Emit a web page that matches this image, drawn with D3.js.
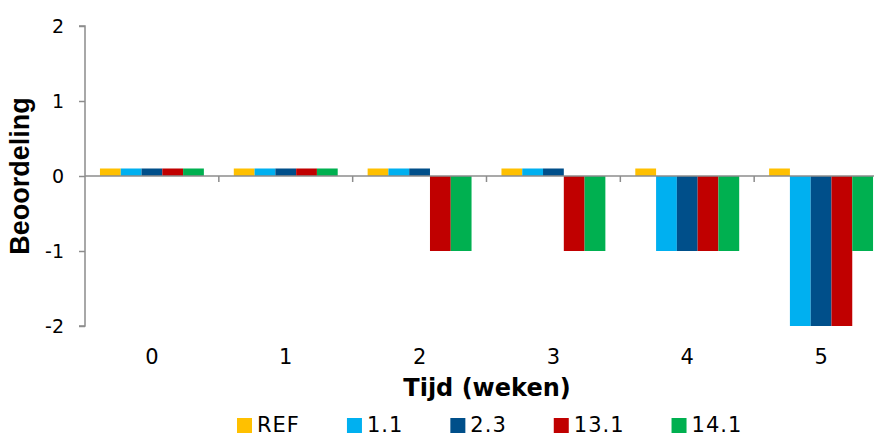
<!DOCTYPE html>
<html>
<head>
<meta charset="utf-8">
<script src="https://cdn.jsdelivr.net/npm/d3@7"></script>
<style>
  html, body { margin: 0; padding: 0; background: #fff; }
  svg { display: block; }
</style>
</head>
<body>
<svg id="chart" width="874" height="436"></svg>
<script>
// Weeks on the x axis
const weeks = ["0", "1", "2", "3", "4", "5"];
// Series names and their scores per week (0.1 marks a score of zero so it stays visible)
const seriesNames = ["REF", "1.1", "2.3", "13.1", "14.1"];
const seriesREF  = [0.1, 0.1, 0.1, 0.1, 0.1, 0.1];
const series11   = [0.1, 0.1, 0.1, 0.1, -1, -2];
const series23   = [0.1, 0.1, 0.1, 0.1, -1, -2];
const series131  = [0.1, 0.1, -1, -1, -1, -2];
const series141  = [0.1, 0.1, -1, -1, -1, -1];
const yTicks = [-2, -1, 0, 1, 2];
const colors = ["#FFC000", "#00B0F0", "#004F8A", "#C00000", "#00B050"];

const allSeries = [seriesREF, series11, series23, series131, series141];

const svg = d3.select("#chart");
const margin = { left: 85, top: 26, right: 888, bottom: 326 };
const axisColor = "#8C8C8C";

const x = d3.scaleBand().domain(weeks).range([margin.left, margin.right]).paddingInner(0).paddingOuter(0);
const inner = d3.scaleBand().domain(seriesNames)
  .range([0, x.bandwidth()]).paddingOuter(0.72).paddingInner(0);
const y = d3.scaleLinear().domain([-2, 2]).range([margin.bottom, margin.top]);

// Bars
const groups = svg.append("g").selectAll("g")
  .data(weeks)
  .join("g")
  .attr("transform", d => `translate(${x(d)},0)`);

groups.selectAll("rect")
  .data((w, i) => seriesNames.map((s, k) => ({ s, k, v: allSeries[k][i] })))
  .join("rect")
  .attr("x", d => inner(d.s))
  .attr("width", inner.bandwidth())
  .attr("y", d => y(Math.max(0, d.v)))
  .attr("height", d => Math.abs(y(d.v) - y(0)))
  .attr("fill", d => colors[d.k]);

// Y axis
const yAxis = d3.axisLeft(y).tickValues(yTicks).tickSize(6).tickPadding(15).tickFormat(d => String(d));
const gy = svg.append("g").attr("transform", `translate(${margin.left},0)`).call(yAxis);
gy.select(".domain").attr("stroke", axisColor).attr("stroke-width", 1.5).attr("d", `M-6,${y(2)}H0V${y(-2)}H-6`);
gy.selectAll(".tick line").attr("stroke", axisColor).attr("stroke-width", 1.5);
gy.selectAll(".tick text")
  .attr("font-family", "DejaVu Sans, Verdana, sans-serif")
  .attr("font-size", 19).attr("fill", "#000");

// X axis along zero, with boundary ticks between weeks
const gx = svg.append("g");
gx.append("line")
  .attr("x1", margin.left).attr("x2", margin.right)
  .attr("y1", y(0)).attr("y2", y(0))
  .attr("stroke", axisColor).attr("stroke-width", 1.5);
gx.selectAll("line.b")
  .data(weeks)
  .join("line")
  .attr("class", "b")
  .attr("x1", d => x(d) + x.bandwidth())
  .attr("x2", d => x(d) + x.bandwidth())
  .attr("y1", y(0)).attr("y2", y(0) + 6)
  .attr("stroke", axisColor).attr("stroke-width", 1.5);

// Week labels
svg.append("g").selectAll("text")
  .data(weeks)
  .join("text")
  .attr("x", d => x(d) + x.bandwidth() / 2)
  .attr("y", 364)
  .attr("text-anchor", "middle")
  .attr("font-family", "DejaVu Sans, Verdana, sans-serif")
  .attr("font-size", 21)
  .text(d => d);

// Axis titles
svg.append("text")
  .attr("x", 487).attr("y", 396)
  .attr("text-anchor", "middle")
  .attr("font-family", "DejaVu Sans, Verdana, sans-serif")
  .attr("font-weight", "bold").attr("font-size", 24)
  .text("Tijd (weken)");

svg.append("text")
  .attr("transform", `translate(29,${y(0)}) rotate(-90)`)
  .attr("text-anchor", "middle")
  .attr("font-family", "Liberation Sans, Arial, sans-serif")
  .attr("font-weight", "bold").attr("font-size", 27)
  .text("Beoordeling");

// Legend
const legend = svg.append("g");
let lx = 237;
seriesNames.forEach((name, k) => {
  legend.append("rect")
    .attr("x", lx).attr("y", 418).attr("width", 15).attr("height", 15)
    .attr("fill", colors[k]);
  const t = legend.append("text")
    .attr("x", lx + 20).attr("y", 432)
    .attr("font-family", "DejaVu Sans, Verdana, sans-serif")
    .attr("font-size", 21).attr("letter-spacing", 1)
    .text(name);
  lx += 20 + t.node().getComputedTextLength() + 47;
});
</script>
</body>
</html>
